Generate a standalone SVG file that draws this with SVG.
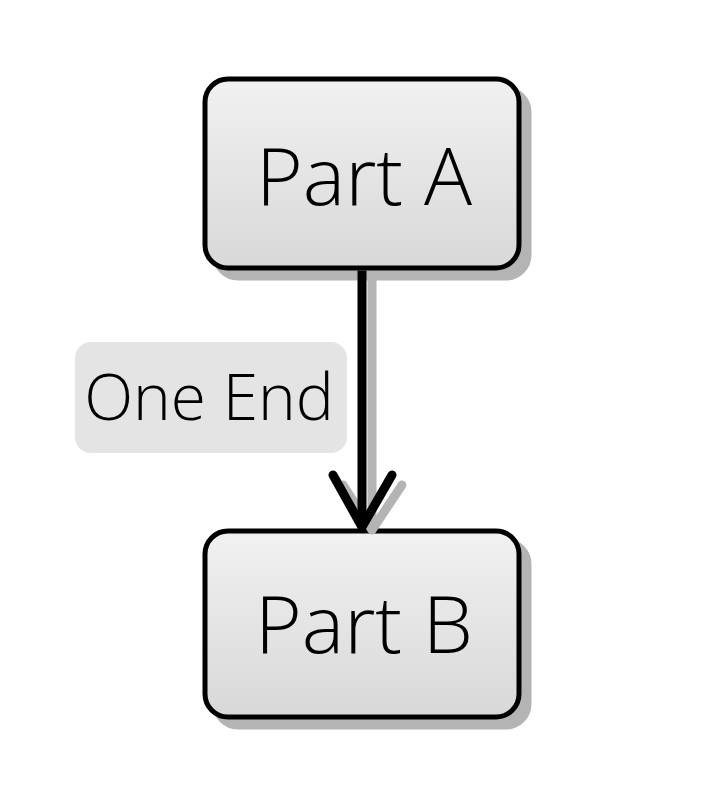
<svg xmlns="http://www.w3.org/2000/svg" width="712" height="792" viewBox="0 0 712 792">
<defs>
<linearGradient id="g" x1="0" y1="0" x2="0" y2="1">
<stop offset="0" stop-color="#f1f1f1"/>
<stop offset="1" stop-color="#d8d8d8"/>
</linearGradient>
<style>
.shadow{fill:#b4b4b4;stroke:#b4b4b4;stroke-width:5}
.box{fill:url(#g);stroke:#000;stroke-width:5}
.t{font-family:"Open Sans","Liberation Sans",sans-serif;font-weight:300;fill:#000;text-anchor:middle}
.edge{fill:none;stroke:#000;stroke-width:9;stroke-linejoin:round}
.head{fill:none;stroke:#000;stroke-width:9;stroke-linecap:round;stroke-linejoin:round}
.edgeS{fill:none;stroke:#b4b4b4;stroke-width:9;stroke-linejoin:round}
.headS{fill:none;stroke:#b4b4b4;stroke-width:9;stroke-linecap:round;stroke-linejoin:round}
</style>
</defs>
<rect width="712" height="792" fill="#fff"/>
<g id="part-a">
<rect class="shadow" x="215" y="89" width="314" height="189" rx="23"/>
<rect class="box" x="205" y="79" width="314" height="189" rx="23"/>
<text class="t" x="364" y="205" font-size="80">Part A</text>
</g>
<g id="part-b">
<rect class="shadow" x="215" y="541" width="314" height="186" rx="23"/>
<rect class="box" x="205" y="531" width="314" height="186" rx="23"/>
<text class="t" x="364" y="653" font-size="80">Part B</text>
</g>
<g id="connectors">
<path class="edgeS" d="M372 271 L372 528"/>
<path class="headS" d="M343 485 L372 530 L402 485"/>
<path class="edge" d="M362 270.5 L362 525"/>
<path class="head" d="M333 475 L362 527 L392 475"/>
<g id="label-one-end">
<rect x="75" y="342" width="272" height="111" rx="16" fill="#e4e4e4"/>
<text class="t" x="209" y="420" font-size="64">One End</text>
</g>
</g>
</svg>
